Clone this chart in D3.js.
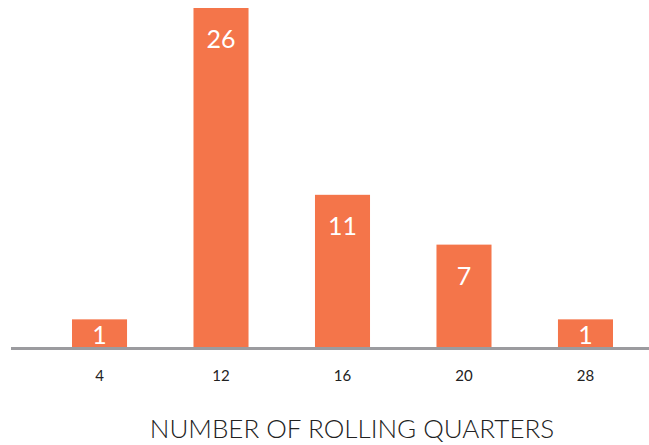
<!DOCTYPE html>
<html>
<head>
<meta charset="utf-8">
<style>
  body { margin: 0; background: #fff; }
  svg { display: block; }
</style>
</head>
<body>
<svg width="649" height="445"></svg>
<script src="https://cdn.jsdelivr.net/npm/d3@7/dist/d3.min.js"></script>
<script>

var quarters = ["4", "12", "16", "20", "28"],
    counts = [1, 26, 11, 7, 1];

var axisTitle = "NUMBER OF ROLLING QUARTERS";

var svg = d3.select("svg"),
    baseline = 348;

var data = quarters.map(function(q, i) { return {q: q, n: counts[i]}; });

var x = d3.scaleBand()
    .domain(quarters)
    .range([72, 613])
    .paddingInner(0.547)
    .paddingOuter(0);

var y = d3.scaleLinear()
    .domain([-1.3, 26])
    .range([baseline, 8]);

svg.selectAll(".bar")
  .data(data)
  .enter().append("rect")
    .attr("class", "bar")
    .attr("x", function(d) { return x(d.q); })
    .attr("y", function(d) { return y(d.n); })
    .attr("width", x.bandwidth())
    .attr("height", function(d) { return baseline - y(d.n); })
    .attr("fill", "#f4754a");

svg.selectAll(".val")
  .data(data)
  .enter().append("text")
    .attr("class", "val")
    .attr("x", function(d) { return x(d.q) + x.bandwidth() / 2; })
    .attr("y", function(d) { return Math.min(y(d.n) + 40, baseline - 4); })
    .attr("text-anchor", "middle")
    .attr("fill", "#fff")
    .style("font-family", "Lato, 'Open Sans', sans-serif")
    .style("font-size", "25px")
    .text(function(d) { return d.n; });

// baseline + tick labels
var xAxis = svg.append("g")
    .attr("transform", "translate(0," + baseline + ")")
    .call(d3.axisBottom(x).tickSize(0).tickPadding(22));

xAxis.select(".domain").remove();
xAxis.selectAll("text")
    .attr("fill", "#222")
    .style("font-family", "Lato, 'Open Sans', sans-serif")
    .style("font-size", "15px");

svg.append("line")
    .attr("x1", 11)
    .attr("x2", 649)
    .attr("y1", baseline + 0.5)
    .attr("y2", baseline + 0.5)
    .attr("stroke", "#9b9b9f")
    .attr("stroke-width", 3);

svg.append("text")
    .attr("x", 352)
    .attr("y", 438)
    .attr("text-anchor", "middle")
    .attr("fill", "#222")
    .style("font-family", "Lato, 'Open Sans', sans-serif")
    .style("font-size", "26px")
    .style("font-weight", 300)
    .text(axisTitle);

</script>
</body>
</html>
